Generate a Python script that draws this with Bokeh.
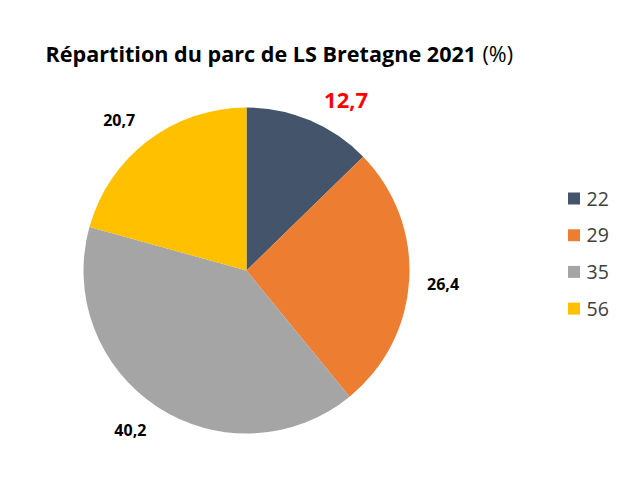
import math
from bokeh.plotting import figure
from bokeh.models import Range1d, ColumnDataSource
from bokeh.core.properties import value
from bokeh.embed import file_html
from bokeh.resources import INLINE

# ---- data ----
categories = ["22", "29", "35", "56"]
shares = [12.7, 26.4, 40.2, 20.7]
share_labels = ["12,7", "26,4", "40,2", "20,7"]
colors = ["#44546A", "#ED7D31", "#A5A5A5", "#FFC000"]

W, H = 614, 481
FONT = "Open Sans"

p = figure(width=W, height=H, output_backend="svg", toolbar_location=None,
           x_range=Range1d(0, W), y_range=Range1d(0, H), min_border=0,
           outline_line_color=None)
p.axis.visible = False
p.grid.visible = False
p.background_fill_color = "white"
p.border_fill_color = "white"

cx, cy, r = 246, 211, 163
total = sum(shares)
starts, ends, mids = [], [], []
cum = 0.0
for s in shares:
    a0 = math.pi / 2 - 2 * math.pi * cum / total
    cum += s
    a1 = math.pi / 2 - 2 * math.pi * cum / total
    starts.append(a0)
    ends.append(a1)
    mids.append((a0 + a1) / 2)

src = ColumnDataSource(dict(start=starts, end=ends, color=colors))
p.wedge(x=cx, y=cy, radius=r, start_angle="start", end_angle="end",
        direction="clock", fill_color="color", line_color=None, source=src)

# data labels
tweak = [-7.5, -0.6, -3.0, 3.0]
lr = 197
lx = [cx + lr * math.cos(m + math.radians(t)) for m, t in zip(mids, tweak)]
ly = [cy + lr * math.sin(m + math.radians(t)) for m, t in zip(mids, tweak)]
lcol = ["#FF0000", "black", "black", "black"]
lsize = ["22px", "16px", "16px", "16px"]
lsrc = ColumnDataSource(dict(x=lx, y=ly, t=share_labels, c=lcol, s=lsize))
p.text(x="x", y="y", text="t", text_color="c", text_font_size="s",
       text_font=value(FONT), text_font_style="bold", text_align="center",
       text_baseline="middle", source=lsrc)

# title
p.text(x=[45], y=[428.5], text=["Répartition du parc de LS Bretagne 2021"],
       text_font=value(FONT), text_font_style="bold", text_font_size="21.6px",
       text_color="black", text_align="left", text_baseline="alphabetic")
p.text(x=[482], y=[428.5], text=["(%)"],
       text_font=value(FONT), text_font_style="normal", text_font_size="21.6px",
       text_color="black", text_align="left", text_baseline="alphabetic")

# legend
ly0, dy = 283, 36.7
leg_y = [ly0 - i * dy for i in range(len(categories))]
p.rect(x=[573.5] * len(categories), y=leg_y, width=12, height=12,
       fill_color=colors, line_color=None)
p.text(x=[586] * len(categories), y=leg_y, text=categories,
       text_font=value(FONT), text_font_size="19.5px", text_color="#404040",
       text_align="left", text_baseline="middle")

open("out.html", "w").write(file_html(p, INLINE))
